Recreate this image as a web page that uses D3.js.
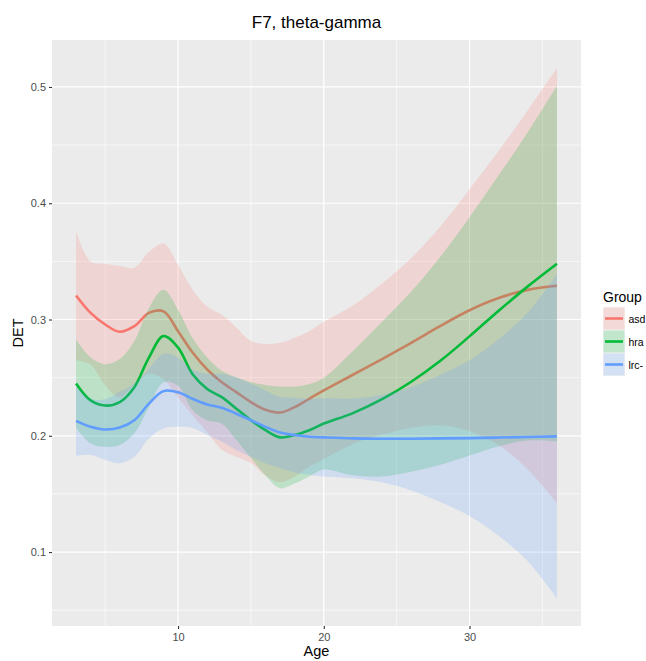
<!DOCTYPE html>
<html>
<head>
<meta charset="utf-8">
<script src="https://cdn.jsdelivr.net/npm/d3@7"></script>
<style>
  html, body { margin: 0; padding: 0; background: #ffffff; }
  svg { display: block; font-family: "Liberation Sans", Arial, Helvetica, sans-serif; }
</style>
</head>
<body>
<svg id="chart" width="646" height="661"></svg>
<script>
// ---- Data ----
const title = "F7, theta-gamma";
const xLabel = "Age";
const yLabel = "DET";
const legendTitle = "Group";
const groups = ["asd", "hra", "lrc-"];
const colors = ["#F8766D", "#00BA38", "#619CFF"];

const ages = [3, 4, 5, 6, 7, 8, 9, 10, 11, 12, 13, 14, 15, 16, 17, 18, 19, 20, 22, 24, 26, 28, 30, 32, 34, 36];

const asdFit   = [0.3207, 0.3057, 0.2957, 0.2895, 0.2943, 0.3057, 0.3070, 0.2900, 0.2716, 0.2570, 0.2460, 0.2375, 0.2290, 0.2224, 0.2200, 0.2247, 0.2318, 0.2390, 0.2525, 0.2660, 0.2800, 0.2945, 0.3080, 0.3185, 0.3255, 0.3290];
const asdUpper = [0.3760, 0.3500, 0.3480, 0.3460, 0.3446, 0.3580, 0.3653, 0.3470, 0.3256, 0.3110, 0.3040, 0.2930, 0.2815, 0.2790, 0.2800, 0.2844, 0.2900, 0.2980, 0.3120, 0.3310, 0.3530, 0.3800, 0.4120, 0.4450, 0.4800, 0.5160];
const asdLower = [0.2650, 0.2614, 0.2434, 0.2330, 0.2440, 0.2534, 0.2487, 0.2330, 0.2176, 0.2030, 0.1880, 0.1820, 0.1765, 0.1658, 0.1600, 0.1650, 0.1736, 0.1800, 0.1930, 0.2010, 0.2070, 0.2090, 0.2040, 0.1920, 0.1710, 0.1420];

const hraFit   = [0.2450, 0.2304, 0.2260, 0.2290, 0.2418, 0.2673, 0.2858, 0.2758, 0.2530, 0.2403, 0.2332, 0.2233, 0.2134, 0.2048, 0.1986, 0.2006, 0.2048, 0.2105, 0.2195, 0.2315, 0.2465, 0.2645, 0.2855, 0.3075, 0.3285, 0.3480];
const hraUpper = [0.2830, 0.2673, 0.2616, 0.2660, 0.2815, 0.3100, 0.3256, 0.3085, 0.2840, 0.2673, 0.2560, 0.2503, 0.2460, 0.2437, 0.2423, 0.2423, 0.2446, 0.2500, 0.2730, 0.2980, 0.3240, 0.3540, 0.3880, 0.4240, 0.4610, 0.5010];
const hraLower = [0.2070, 0.1935, 0.1904, 0.1920, 0.2021, 0.2246, 0.2460, 0.2431, 0.2220, 0.2133, 0.2104, 0.1963, 0.1808, 0.1659, 0.1549, 0.1589, 0.1650, 0.1710, 0.1660, 0.1650, 0.1690, 0.1750, 0.1830, 0.1910, 0.1960, 0.1950];

const lrcFit   = [0.2128, 0.2077, 0.2054, 0.2071, 0.2134, 0.2276, 0.2384, 0.2375, 0.2318, 0.2270, 0.2241, 0.2190, 0.2134, 0.2077, 0.2028, 0.2006, 0.1991, 0.1986, 0.1978, 0.1975, 0.1975, 0.1978, 0.1980, 0.1985, 0.1990, 0.1995];
const lrcUpper = [0.2429, 0.2319, 0.2315, 0.2378, 0.2448, 0.2575, 0.2705, 0.2673, 0.2568, 0.2534, 0.2532, 0.2502, 0.2448, 0.2390, 0.2334, 0.2327, 0.2317, 0.2322, 0.2321, 0.2350, 0.2420, 0.2526, 0.2650, 0.2830, 0.3060, 0.3390];
const lrcLower = [0.1827, 0.1835, 0.1793, 0.1764, 0.1820, 0.1977, 0.2063, 0.2077, 0.2068, 0.2006, 0.1950, 0.1878, 0.1820, 0.1764, 0.1722, 0.1685, 0.1665, 0.1650, 0.1635, 0.1600, 0.1530, 0.1430, 0.1310, 0.1140, 0.0920, 0.0600];

const xTicks = [10, 20, 30];
const xMinor = [5, 15, 25, 35];
const yTicks = [0.1, 0.2, 0.3, 0.4, 0.5];
const yMinor = [0.05, 0.15, 0.25, 0.35, 0.45];

const series = [
  { name: groups[0], color: colors[0], fit: asdFit, upper: asdUpper, lower: asdLower },
  { name: groups[1], color: colors[1], fit: hraFit, upper: hraUpper, lower: hraLower },
  { name: groups[2], color: colors[2], fit: lrcFit, upper: lrcUpper, lower: lrcLower }
];

// ---- Layout ----
const panel = { left: 52, right: 581, top: 40, bottom: 626 };
const svg = d3.select("#chart");

const x = d3.scaleLinear().domain([1.35, 37.65]).range([panel.left, panel.right]);
const y = d3.scaleLinear().domain([0.0364, 0.5404]).range([panel.bottom, panel.top]);

// panel background
svg.append("rect")
  .attr("x", panel.left).attr("y", panel.top)
  .attr("width", panel.right - panel.left).attr("height", panel.bottom - panel.top)
  .attr("fill", "#EBEBEB");

const grid = svg.append("g");
grid.selectAll(".xminor").data(xMinor).enter().append("line")
  .attr("x1", d => x(d)).attr("x2", d => x(d))
  .attr("y1", panel.top).attr("y2", panel.bottom)
  .attr("stroke", "#ffffff").attr("stroke-width", 0.6);
grid.selectAll(".yminor").data(yMinor).enter().append("line")
  .attr("y1", d => y(d)).attr("y2", d => y(d))
  .attr("x1", panel.left).attr("x2", panel.right)
  .attr("stroke", "#ffffff").attr("stroke-width", 0.6);
grid.selectAll(".xmajor").data(xTicks).enter().append("line")
  .attr("x1", d => x(d)).attr("x2", d => x(d))
  .attr("y1", panel.top).attr("y2", panel.bottom)
  .attr("stroke", "#ffffff").attr("stroke-width", 1.2);
grid.selectAll(".ymajor").data(yTicks).enter().append("line")
  .attr("y1", d => y(d)).attr("y2", d => y(d))
  .attr("x1", panel.left).attr("x2", panel.right)
  .attr("stroke", "#ffffff").attr("stroke-width", 1.2);

// ---- Smooth ribbons and lines (drawn per group: ribbon then line) ----
const curve = d3.curveCatmullRom.alpha(0.5);
const area = d3.area()
  .x((d, i) => x(ages[i]))
  .y0(d => y(d[0]))
  .y1(d => y(d[1]))
  .curve(curve);
const line = d3.line()
  .x((d, i) => x(ages[i]))
  .y(d => y(d))
  .curve(curve);

const plot = svg.append("g");
series.forEach(s => {
  const band = ages.map((a, i) => [s.lower[i], s.upper[i]]);
  plot.append("path")
    .attr("d", area(band))
    .attr("fill", s.color)
    .attr("fill-opacity", 0.2);
  plot.append("path")
    .attr("d", line(s.fit))
    .attr("fill", "none")
    .attr("stroke", s.color)
    .attr("stroke-width", 2.6);
});

// ---- Axes ----
const xAxis = d3.axisBottom(x).tickValues(xTicks).tickSize(3).tickPadding(4).tickFormat(d3.format("d"));
const yAxis = d3.axisLeft(y).tickValues(yTicks).tickSize(3).tickPadding(3).tickFormat(d3.format(".1f"));

const gx = svg.append("g").attr("transform", `translate(0,${panel.bottom})`).call(xAxis);
const gy = svg.append("g").attr("transform", `translate(${panel.left},0)`).call(yAxis);
[gx, gy].forEach(g => {
  g.select(".domain").remove();
  g.selectAll(".tick line").attr("stroke", "#333333").attr("stroke-width", 1.1);
  g.selectAll(".tick text").attr("fill", "#4D4D4D").style("font-size", "11px")
    .style("font-family", '"Liberation Sans", Arial, sans-serif');
});

// ---- Titles ----
svg.append("text")
  .attr("x", (panel.left + panel.right) / 2).attr("y", 28)
  .attr("text-anchor", "middle")
  .style("font-size", "17px").attr("fill", "#000")
  .text(title);

svg.append("text")
  .attr("x", (panel.left + panel.right) / 2).attr("y", 656)
  .attr("text-anchor", "middle")
  .style("font-size", "14.5px").attr("fill", "#000")
  .text(xLabel);

svg.append("text")
  .attr("transform", `translate(23,${(panel.top + panel.bottom) / 2}) rotate(-90)`)
  .attr("text-anchor", "middle")
  .style("font-size", "14.5px").attr("fill", "#000")
  .text(yLabel);

// ---- Legend ----
const legend = svg.append("g").attr("transform", "translate(603,0)");
legend.append("text")
  .attr("x", 0).attr("y", 302)
  .style("font-size", "14px").attr("fill", "#000")
  .text(legendTitle);

const keyH = 23, keyW = 22, keyTop = 307;
series.forEach((s, i) => {
  const ky = keyTop + i * keyH;
  legend.append("rect")
    .attr("x", 0).attr("y", ky).attr("width", keyW).attr("height", keyH)
    .attr("fill", "#F2F2F2");
  legend.append("rect")
    .attr("x", 0.5).attr("y", ky + 0.5).attr("width", keyW - 1).attr("height", keyH - 1)
    .attr("fill", s.color).attr("fill-opacity", 0.2);
  legend.append("line")
    .attr("x1", 2).attr("x2", keyW - 2)
    .attr("y1", ky + keyH / 2).attr("y2", ky + keyH / 2)
    .attr("stroke", s.color).attr("stroke-width", 2.6);
  legend.append("text")
    .attr("x", keyW + 3.5).attr("y", ky + keyH / 2 + 4)
    .style("font-size", "10.5px").attr("fill", "#000")
    .text(s.name);
});
</script>
</body>
</html>
